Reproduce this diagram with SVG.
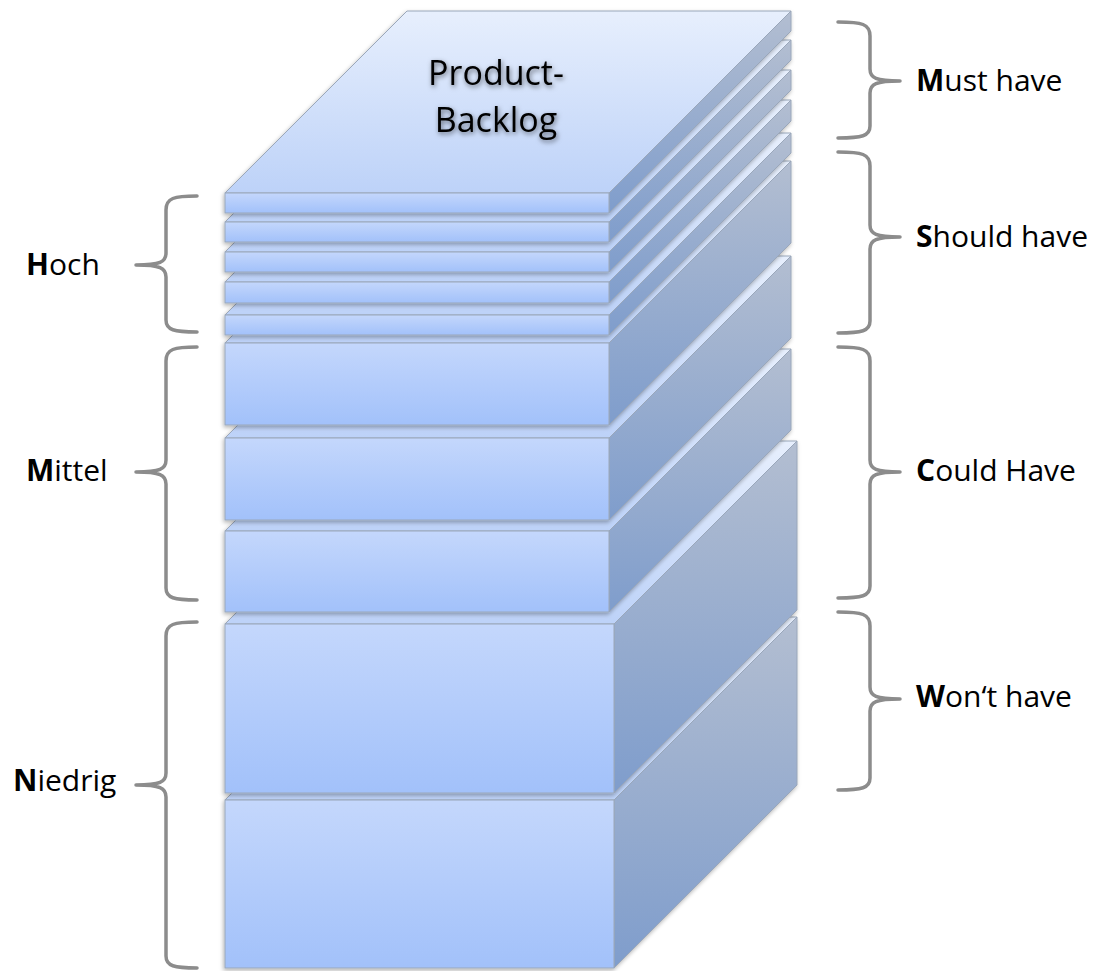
<svg xmlns="http://www.w3.org/2000/svg" width="1098" height="971" viewBox="0 0 1098 971">
<defs>
<linearGradient id="gFront" x1="0" y1="0" x2="0" y2="1"><stop offset="0" stop-color="#c4d7fc"/><stop offset="1" stop-color="#a2c1fa"/></linearGradient>
<linearGradient id="gSide" x1="0" y1="0" x2="0" y2="1"><stop offset="0" stop-color="#b3bed1"/><stop offset="1" stop-color="#7f9dcc"/></linearGradient>
<linearGradient id="gTop" x1="0" y1="0" x2="0" y2="1"><stop offset="0" stop-color="#e7effd"/><stop offset="1" stop-color="#bdd2f8"/></linearGradient>
<filter id="sh" x="-10%" y="-10%" width="120%" height="130%"><feDropShadow dx="-1" dy="2" stdDeviation="2" flood-color="#000" flood-opacity="0.3"/></filter>
<filter id="tsh" x="-20%" y="-30%" width="140%" height="160%"><feDropShadow dx="1" dy="2" stdDeviation="2.5" flood-color="#000" flood-opacity="0.55"/></filter>
</defs>
<style>
.front{fill:url(#gFront);stroke:#9aa7ba;stroke-width:1}
.side{fill:url(#gSide);stroke:#9aa7ba;stroke-width:1}
.top{fill:url(#gTop);stroke:#9aa7ba;stroke-width:1}
.lbl{font-family:"Open Sans","Liberation Sans",sans-serif;font-size:30px;fill:#000}
.lbl tspan.b{font-weight:bold}
.brace{fill:none;stroke:#8c8c8c;stroke-width:3.5;stroke-linecap:round;stroke-linejoin:round}
.title{font-family:"Open Sans","Liberation Sans",sans-serif;font-size:34px;fill:#000;text-anchor:middle}
</style>
<g id="stack">
<g id="slab10" filter="url(#sh)">
<polygon class="top" points="225,800 614,800 797,617 408,617"/>
<polygon class="side" points="614,800 797,617 797,785 614,968"/>
<rect class="front" x="225" y="800" width="389" height="168"/>
</g>
<g id="slab9" filter="url(#sh)">
<polygon class="top" points="225,624 614,624 797,441 408,441"/>
<polygon class="side" points="614,624 797,441 797,610 614,793"/>
<rect class="front" x="225" y="624" width="389" height="169"/>
</g>
<g id="slab8" filter="url(#sh)">
<polygon class="top" points="225,531 609,531 791,349 407,349"/>
<polygon class="side" points="609,531 791,349 791,430 609,612"/>
<rect class="front" x="225" y="531" width="384" height="81"/>
</g>
<g id="slab7" filter="url(#sh)">
<polygon class="top" points="225,438 609,438 791,256 407,256"/>
<polygon class="side" points="609,438 791,256 791,338 609,520"/>
<rect class="front" x="225" y="438" width="384" height="82"/>
</g>
<g id="slab6" filter="url(#sh)">
<polygon class="top" points="225,343 609,343 791,161 407,161"/>
<polygon class="side" points="609,343 791,161 791,243 609,425"/>
<rect class="front" x="225" y="343" width="384" height="82"/>
</g>
<g id="slab5" filter="url(#sh)">
<polygon class="top" points="225,315 609,315 791,133 407,133"/>
<polygon class="side" points="609,315 791,133 791,153 609,335"/>
<rect class="front" x="225" y="315" width="384" height="20"/>
</g>
<g id="slab4" filter="url(#sh)">
<polygon class="top" points="225,282 609,282 791,100 407,100"/>
<polygon class="side" points="609,282 791,100 791,121 609,303"/>
<rect class="front" x="225" y="282" width="384" height="21"/>
</g>
<g id="slab3" filter="url(#sh)">
<polygon class="top" points="225,252 609,252 791,70 407,70"/>
<polygon class="side" points="609,252 791,70 791,90 609,272"/>
<rect class="front" x="225" y="252" width="384" height="20"/>
</g>
<g id="slab2" filter="url(#sh)">
<polygon class="top" points="225,222 609,222 791,40 407,40"/>
<polygon class="side" points="609,222 791,40 791,60 609,242"/>
<rect class="front" x="225" y="222" width="384" height="20"/>
</g>
<g id="slab1" filter="url(#sh)">
<polygon class="top" points="225,193 609,193 791,11 407,11"/>
<polygon class="side" points="609,193 791,11 791,31 609,213"/>
<rect class="front" x="225" y="193" width="384" height="20"/>
</g>
<g id="title" filter="url(#tsh)">
<text class="title" x="496" y="85"><tspan x="496" y="85">Product-</tspan><tspan x="496" y="132">Backlog</tspan></text>
</g>
</g>
<g id="connectors">
<path class="brace" d="M838,22 C862,22 870,24 870,36 L870,69 C870,78 876,81 900,81 C876,81 870,84 870,93 L870,126 C870,136 862,138 838,138"/>
<path class="brace" d="M838,152 C862,152 870,154 870,166 L870,225 C870,234 876,237 900,237 C876,237 870,240 870,249 L870,321 C870,331 862,333 838,333"/>
<path class="brace" d="M838,347 C862,347 870,349 870,361 L870,460 C870,469 876,472 900,472 C876,472 870,475 870,484 L870,586 C870,596 862,598 838,598"/>
<path class="brace" d="M838,612 C862,612 870,614 870,626 L870,687 C870,696 876,699 900,699 C876,699 870,702 870,711 L870,778 C870,788 862,790 838,790"/>
<path class="brace" d="M197,196 C174,196 166,198 166,210 L166,253 C166,262 160,265 136,265 C160,265 166,268 166,277 L166,320 C166,330 174,332 197,332"/>
<path class="brace" d="M197,347 C174,347 166,349 166,361 L166,460 C166,469 160,472 136,472 C160,472 166,475 166,484 L166,588 C166,598 174,600 197,600"/>
<path class="brace" d="M197,622 C174,622 166,624 166,636 L166,773 C166,782 160,785 136,785 C160,785 166,788 166,797 L166,956 C166,966 174,968 197,968"/>
</g>
<g id="labels">
<text id="must" class="lbl" x="916" y="91"><tspan class="b">M</tspan>ust have</text>
<text id="should" class="lbl" x="916" y="247"><tspan class="b">S</tspan>hould have</text>
<text id="could" class="lbl" x="916" y="481"><tspan class="b">C</tspan>ould Have</text>
<text id="wont" class="lbl" x="916" y="707"><tspan class="b">W</tspan>on‘t have</text>
<text id="hoch" class="lbl" x="26" y="275"><tspan class="b">H</tspan>och</text>
<text id="mittel" class="lbl" x="26" y="481"><tspan class="b">M</tspan>ittel</text>
<text id="niedrig" class="lbl" x="13" y="791"><tspan class="b">N</tspan>iedrig</text>
</g>
</svg>
